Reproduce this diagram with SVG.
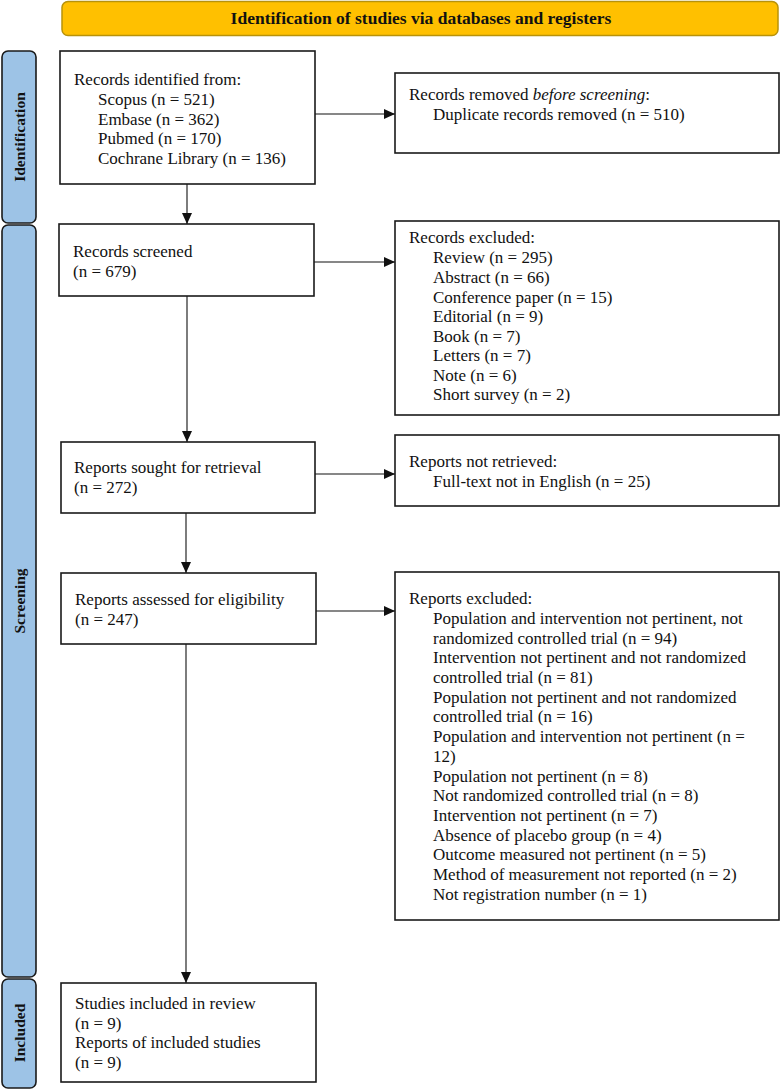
<svg xmlns="http://www.w3.org/2000/svg" width="780" height="1090" viewBox="0 0 780 1090">
<style>
.box{fill:#fff;stroke:#1a1a1a;stroke-width:1.6}
.side{fill:#9DC3E6;stroke:#1a1a1a;stroke-width:1.6}
.t{font-family:"Liberation Serif","Times New Roman",serif;font-size:17px;fill:#111}
.b{font-family:"Liberation Serif","Times New Roman",serif;font-weight:bold;fill:#111}
.c{stroke:#111;stroke-width:1.1;fill:none;marker-end:url(#ah)}
</style>
<defs>
<marker id="ah" markerUnits="userSpaceOnUse" markerWidth="11" markerHeight="10" refX="11" refY="5" orient="auto">
<path d="M0,0 L11,5 L0,10 z" fill="#111"/>
</marker>
</defs>
<rect width="780" height="1090" fill="#fff"/>
<g id="banner">
<rect x="62" y="1.5" width="716" height="34" rx="6" fill="#FFC000" stroke="#B8920A" stroke-width="1.5"/>
<text class="b" x="421" y="24" font-size="17.5" text-anchor="middle">Identification of studies via databases and registers</text>
</g>
<g id="lane-identification">
<rect class="side" x="2" y="51" width="34" height="172" rx="6"/>
<text class="b" font-size="15.5" transform="translate(25,137) rotate(-90)" text-anchor="middle">Identification</text>
</g>
<g id="lane-screening">
<rect class="side" x="2" y="225" width="34" height="752" rx="6"/>
<text class="b" font-size="15.5" transform="translate(25,601) rotate(-90)" text-anchor="middle">Screening</text>
</g>
<g id="lane-included">
<rect class="side" x="2" y="979" width="34" height="109" rx="6"/>
<text class="b" font-size="15.5" transform="translate(25,1033) rotate(-90)" text-anchor="middle">Included</text>
</g>
<g id="connectors">
<line class="c" x1="315" y1="114" x2="395" y2="114"/>
<line class="c" x1="187" y1="184" x2="187" y2="224"/>
<line class="c" x1="314" y1="262" x2="395" y2="262"/>
<line class="c" x1="187" y1="296" x2="187" y2="442"/>
<line class="c" x1="315" y1="474" x2="395" y2="474"/>
<line class="c" x1="186" y1="513" x2="186" y2="573"/>
<line class="c" x1="316" y1="611" x2="395" y2="611"/>
<line class="c" x1="186" y1="644" x2="186" y2="983"/>
</g>
<g id="records-identified">
<rect class="box" x="60" y="51" width="255" height="133"/>
<text class="t"><tspan x="74" y="85">Records identified from:</tspan><tspan x="98" y="105">Scopus (n = 521)</tspan><tspan x="98" y="125">Embase (n = 362)</tspan><tspan x="98" y="144">Pubmed (n = 170)</tspan><tspan x="98" y="164">Cochrane Library (n = 136)</tspan></text>
</g>
<g id="records-removed">
<rect class="box" x="395" y="73" width="384" height="80"/>
<text class="t"><tspan x="409" y="100">Records removed <tspan font-style="italic">before screening</tspan>:</tspan><tspan x="433" y="120">Duplicate records removed (n = 510)</tspan></text>
</g>
<g id="records-screened">
<rect class="box" x="59" y="224" width="255" height="72"/>
<text class="t"><tspan x="73" y="257">Records screened</tspan><tspan x="73" y="277">(n = 679)</tspan></text>
</g>
<g id="records-excluded">
<rect class="box" x="395" y="221" width="384" height="194"/>
<text class="t"><tspan x="409" y="243">Records excluded:</tspan><tspan x="433" y="263">Review (n = 295)</tspan><tspan x="433" y="283">Abstract (n = 66)</tspan><tspan x="433" y="303">Conference paper (n = 15)</tspan><tspan x="433" y="322">Editorial (n = 9)</tspan><tspan x="433" y="342">Book (n = 7)</tspan><tspan x="433" y="361">Letters (n = 7)</tspan><tspan x="433" y="381">Note (n = 6)</tspan><tspan x="433" y="400">Short survey (n = 2)</tspan></text>
</g>
<g id="reports-sought">
<rect class="box" x="61" y="442" width="254" height="71"/>
<text class="t"><tspan x="74" y="473">Reports sought for retrieval</tspan><tspan x="74" y="493">(n = 272)</tspan></text>
</g>
<g id="reports-not-retrieved">
<rect class="box" x="395" y="435" width="384" height="71"/>
<text class="t"><tspan x="409" y="467">Reports not retrieved:</tspan><tspan x="433" y="487">Full-text not in English (n = 25)</tspan></text>
</g>
<g id="reports-assessed">
<rect class="box" x="61" y="573" width="255" height="71"/>
<text class="t"><tspan x="75" y="605">Reports assessed for eligibility</tspan><tspan x="75" y="625">(n = 247)</tspan></text>
</g>
<g id="reports-excluded">
<rect class="box" x="395" y="572" width="384" height="348"/>
<text class="t"><tspan x="409" y="604">Reports excluded:</tspan><tspan x="433" y="624">Population and intervention not pertinent, not</tspan><tspan x="433" y="644">randomized controlled trial (n = 94)</tspan><tspan x="433" y="663">Intervention not pertinent and not randomized</tspan><tspan x="433" y="683">controlled trial (n = 81)</tspan><tspan x="433" y="703">Population not pertinent and not randomized</tspan><tspan x="433" y="722">controlled trial (n = 16)</tspan><tspan x="433" y="742">Population and intervention not pertinent (n =</tspan><tspan x="433" y="762">12)</tspan><tspan x="433" y="782">Population not pertinent (n = 8)</tspan><tspan x="433" y="801">Not randomized controlled trial (n = 8)</tspan><tspan x="433" y="821">Intervention not pertinent (n = 7)</tspan><tspan x="433" y="841">Absence of placebo group (n = 4)</tspan><tspan x="433" y="860">Outcome measured not pertinent (n = 5)</tspan><tspan x="433" y="880">Method of measurement not reported (n = 2)</tspan><tspan x="433" y="900">Not registration number (n = 1)</tspan></text>
</g>
<g id="studies-included">
<rect class="box" x="61" y="983" width="255" height="99"/>
<text class="t"><tspan x="75" y="1009">Studies included in review</tspan><tspan x="75" y="1029">(n = 9)</tspan><tspan x="75" y="1048">Reports of included studies</tspan><tspan x="75" y="1068">(n = 9)</tspan></text>
</g>
</svg>
